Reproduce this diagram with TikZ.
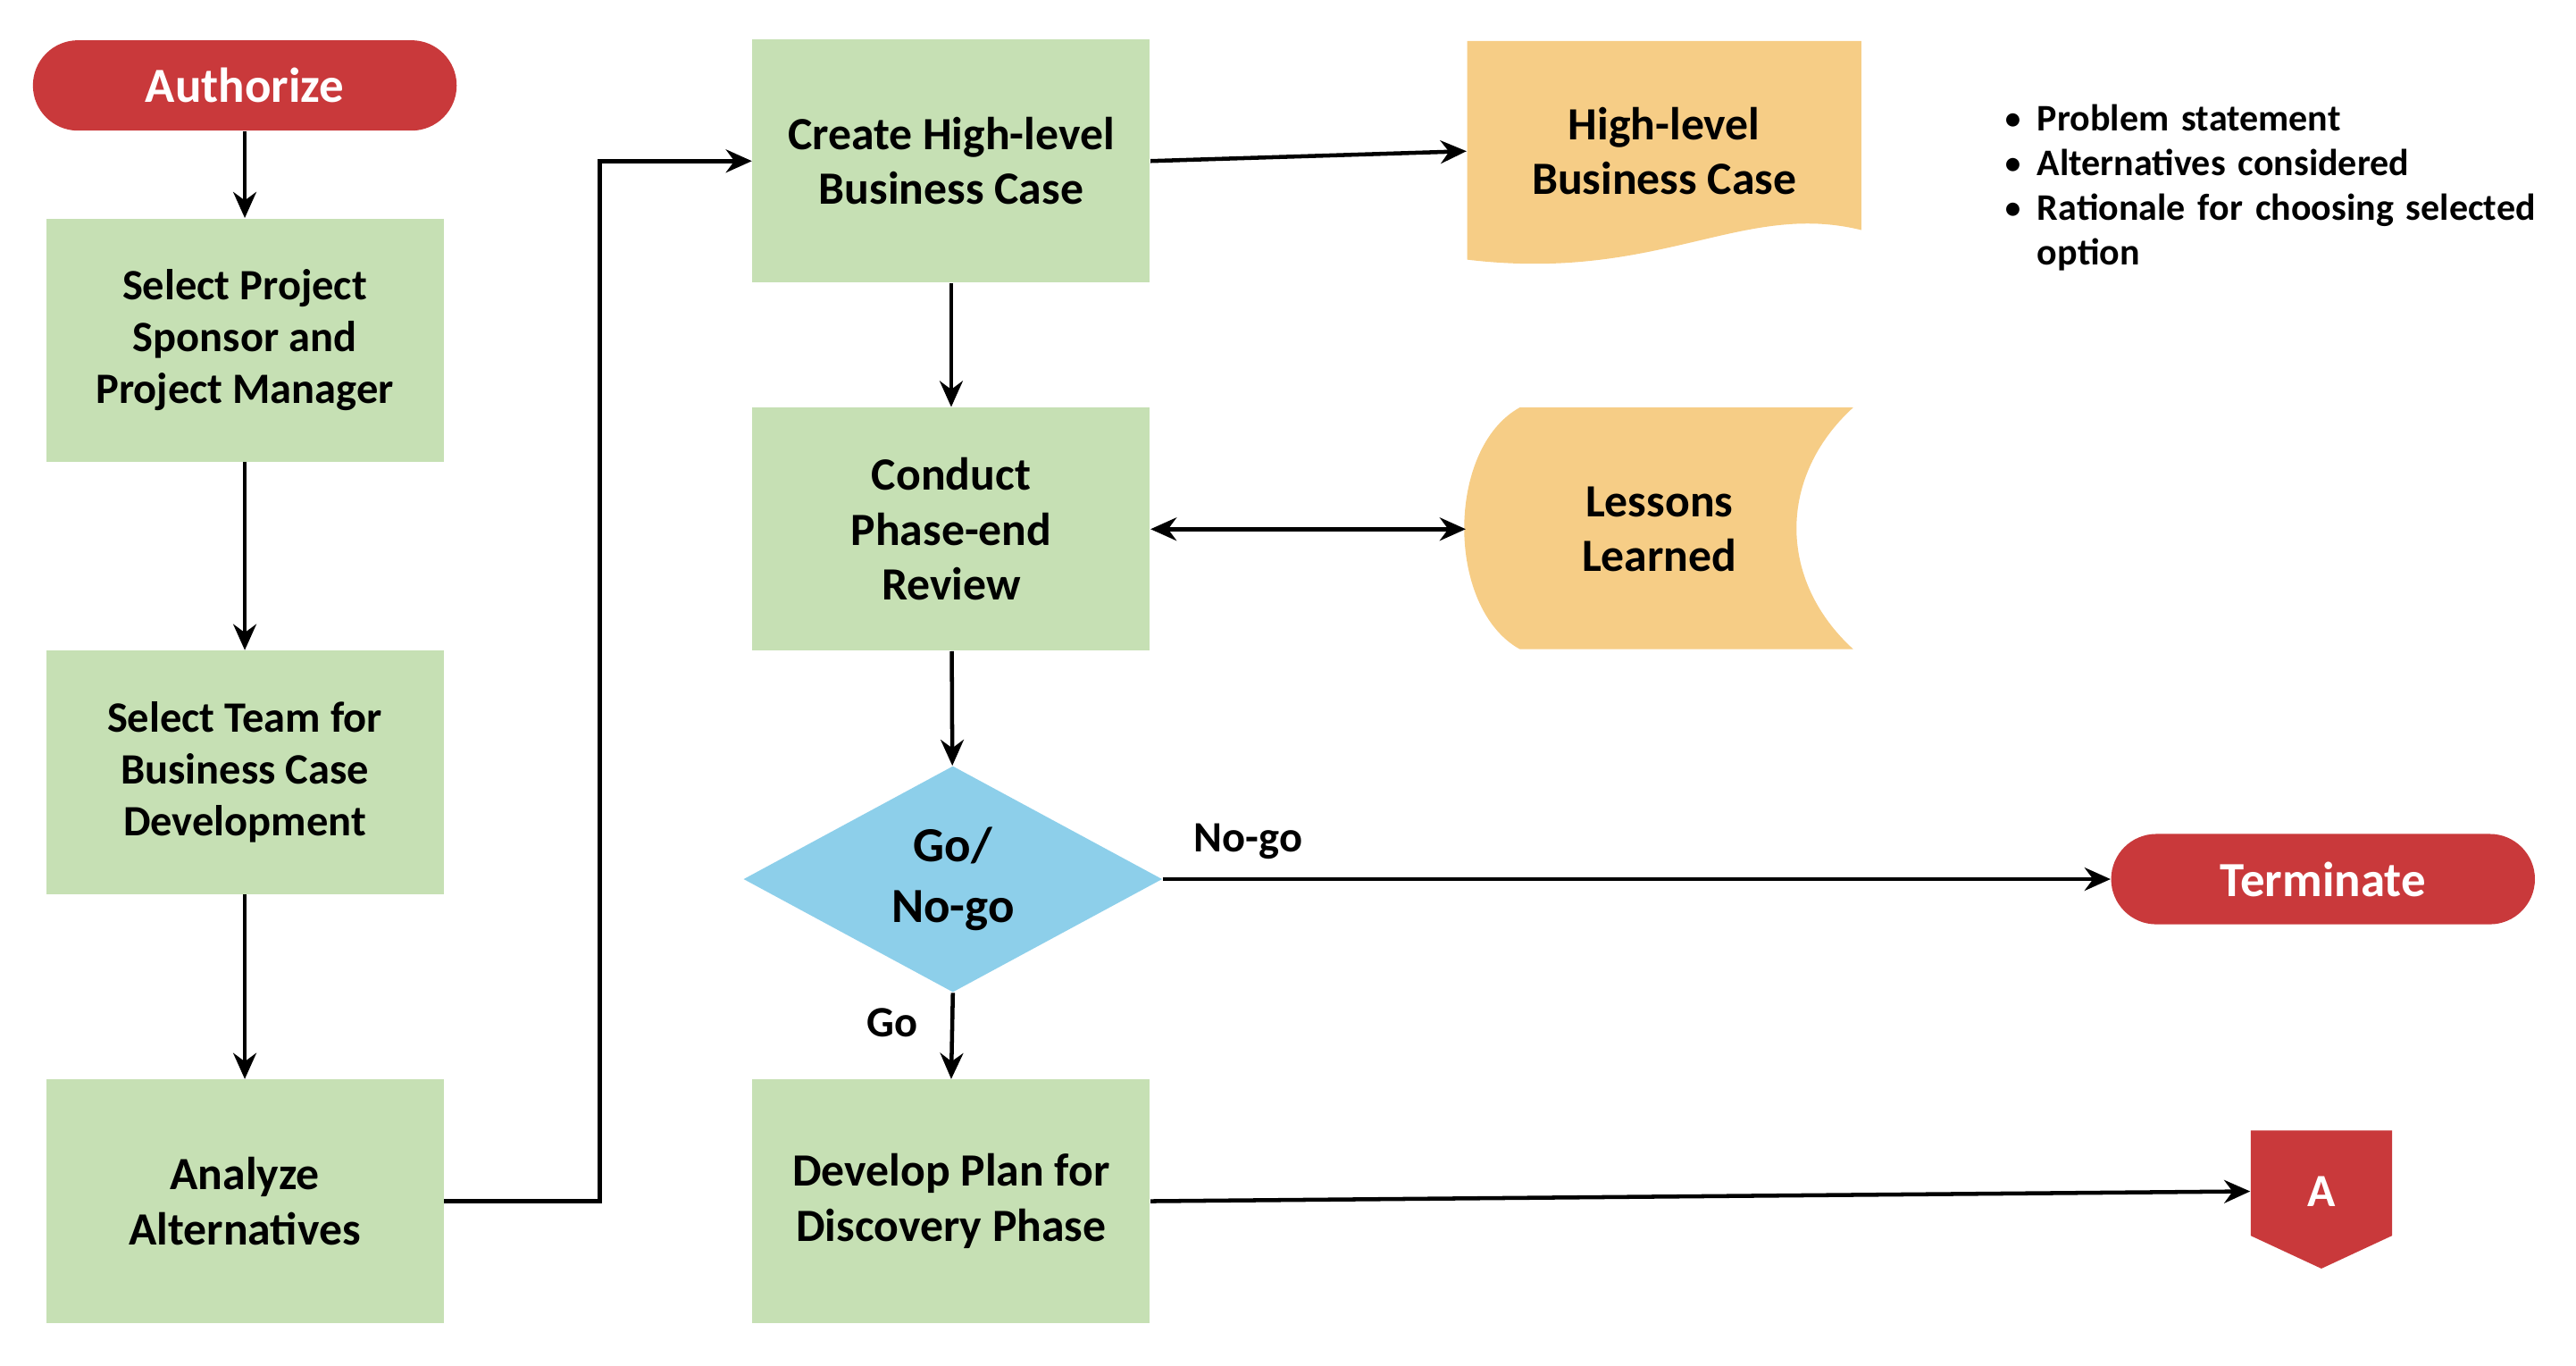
\documentclass[tikz,border=0pt]{standalone}
\usepackage{fontspec}
\setmainfont{Carlito}
\usetikzlibrary{shapes.geometric,arrows.meta}
\definecolor{grn}{HTML}{C6E0B4}
\definecolor{redc}{HTML}{C9393B}
\definecolor{blu}{HTML}{8DCFEA}
\definecolor{org}{HTML}{F6CD86}
\begin{document}
\begin{tikzpicture}[x=0.02cm,y=-0.02cm,
  box/.style={fill=grn,minimum width=4.84cm,minimum height=2.96cm,align=center,font=\bfseries\fontsize{15}{18}\selectfont,inner sep=2pt},
  pill/.style={fill=redc,rounded corners=0.55cm,minimum width=5.16cm,minimum height=1.1cm,text=white,font=\bfseries\fontsize{17}{20}\selectfont},
  arr/.style={-{Stealth[length=9pt,width=8pt]},line width=1.4pt},
  lbl/.style={font=\bfseries\fontsize{15}{18}\selectfont}]
\useasboundingbox (0,0) rectangle (1568,830.8);
\node[pill] (auth) at (149,52) {Authorize};
\node[box] (sponsor) at (149,207) {Select Project\\Sponsor and\\Project Manager};
\node[box] (team) at (149,470) {Select Team for\\Business Case\\Development};
\node[box,font=\bfseries\fontsize{16}{19}\selectfont] (analyze) at (149,731) {Analyze\\Alternatives};
\node[box,font=\bfseries\fontsize{16}{19}\selectfont] (create) at (579,98) {Create High-level\\Business Case};
\node[box,font=\bfseries\fontsize{16}{19}\selectfont] (review) at (579,322) {Conduct\\Phase-end\\Review};
\node[diamond,fill=blu,minimum width=5.1cm,minimum height=2.44cm,inner sep=0pt,align=center,font=\bfseries\fontsize{17}{21}\selectfont] (go) at (580,535) {Go/\\No-go};
\node[box,font=\bfseries\fontsize{16}{19}\selectfont] (plan) at (579,731) {Develop Plan for\\Discovery Phase};
\node[pill] (term) at (1414,535) {Terminate};
% document
\fill[org] (893,25) -- (1133,25) -- (1133,140) .. controls (1060,122) and (1010,172) .. (893,158) -- cycle;
\node[align=center,font=\bfseries\fontsize{16}{19}\selectfont,minimum width=4.8cm,minimum height=2.7cm] (doc) at (1013,92) {High-level\\Business Case};
% lessons
\fill[org] (925,248) -- (1128,248) .. controls (1082,290) and (1082,353) .. (1128,395) -- (925,395) .. controls (880,370) and (880,273) .. (925,248) -- cycle;
\node[align=center,font=\bfseries\fontsize{16}{19}\selectfont,minimum width=4.7cm,minimum height=2.94cm] (lessons) at (1010,322) {Lessons\\Learned};
% A
\fill[redc] (1370,688) -- (1456,688) -- (1456,752) -- (1413,772) -- (1370,752) -- cycle;
\node[text=white,font=\bfseries\fontsize{16}{19}\selectfont,minimum width=1.72cm,minimum height=1.68cm] (A) at (1413,725) {A};
% bullets
\node[anchor=north west,align=left,font=\bfseries\fontsize{13}{15.5}\selectfont,text width=7.6cm] (bul) at (1190,32) {%
\begin{itemize}\setlength{\itemsep}{0pt}\setlength{\parskip}{0pt}\setlength{\leftmargin}{0.6cm}
\item Problem statement
\item Alternatives considered
\item Rationale for choosing selected option
\end{itemize}};
% arrows
\draw[arr] (auth) -- (sponsor);
\draw[arr] (sponsor) -- (team);
\draw[arr] (team) -- (analyze);
\draw[arr] (analyze.east) -- (365,731) -- (365,98) -- (create.west);
\draw[arr] (create.east) -- (doc.west);
\draw[arr] (create) -- (review);
\draw[arr,{Stealth[length=9pt,width=8pt]}-{Stealth[length=9pt,width=8pt]}] (review.east) -- (lessons.west);
\draw[arr] (review) -- (go);
\draw[arr] (go.east) -- node[lbl,above,pos=0.09,yshift=3pt] (nogo) {No-go} (term.west);
\draw[arr] (go.south) -- node[lbl,left,pos=0.35,xshift=-8pt] (golbl) {Go} (plan.north);
\draw[arr] (plan.east) -- (A.west);
\end{tikzpicture}
\end{document}
